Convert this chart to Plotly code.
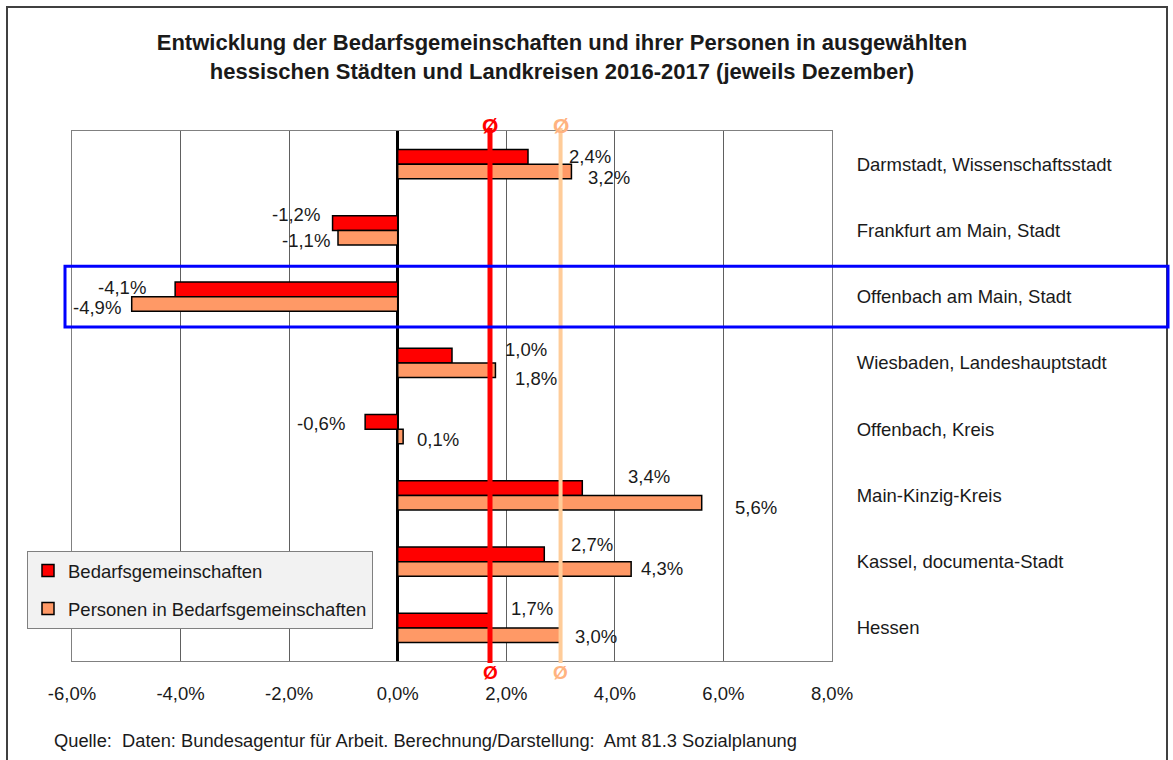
import plotly.graph_objects as go

# ---------------- data ----------------
categories = [
    "Darmstadt, Wissenschaftsstadt",
    "Frankfurt am Main, Stadt",
    "Offenbach am Main, Stadt",
    "Wiesbaden, Landeshauptstadt",
    "Offenbach, Kreis",
    "Main-Kinzig-Kreis",
    "Kassel, documenta-Stadt",
    "Hessen",
]
bg_values = [2.4, -1.2, -4.1, 1.0, -0.6, 3.4, 2.7, 1.7]        # Bedarfsgemeinschaften
pers_values = [3.2, -1.1, -4.9, 1.8, 0.1, 5.6, 4.3, 3.0]       # Personen in BG
series_names = ["Bedarfsgemeinschaften", "Personen in Bedarfsgemeinschaften"]
tick_values = [-6, -4, -2, 0, 2, 4, 6, 8]
highlight_category = "Offenbach am Main, Stadt"
reference_category = "Hessen"
title_text = ("<b>Entwicklung der Bedarfsgemeinschaften und ihrer Personen in ausgewählten<br>"
              "hessischen Städten und Landkreisen 2016-2017 (jeweils Dezember)</b>")
source_text = "Quelle:  Daten: Bundesagentur für Arbeit. Berechnung/Darstellung:  Amt 81.3 Sozialplanung"

# ---------------- label placement (pixel offsets) ----------------
bg_dx = [39, 11, 27, 51, 18, 44, 25, 19]
pers_dx = [15, 6, 9, 18, 12, 31, 8, 12]
bg_dy = [-8, -16, -9, -13, -6, -19, -17, -19]
pers_dy = [13, 10, 11, 16, 10, 12, 7, 9]

# ---------------- style ----------------
FONT = "Liberation Sans, Arial, sans-serif"
FS = 18.5
RED = "#FF0000"
ORANGE = "#FF9966"
PEACH = "#FFCC99"
TXT = "#1a1a1a"
W, H = 1173, 760
ML, MR, MT, MB = 72, 341, 131, 99
PW, PH = W - ML - MR, H - MT - MB


def px_x(px):
    return (px - ML) / PW


def px_y(py):
    return (H - MB - py) / PH


def fmt(v):
    return f"{v:.1f}".replace(".", ",") + "%"


fig = go.Figure()
fig.add_trace(go.Bar(
    y=categories, x=bg_values, orientation="h", name=series_names[0],
    marker=dict(color=RED, line=dict(color="black", width=1.5)),
    legendgroup="a",
))
fig.add_trace(go.Bar(
    y=categories, x=pers_values, orientation="h", name=series_names[1],
    marker=dict(color=ORANGE, line=dict(color="black", width=1.5)),
    legendgroup="b",
))

annotations = []
for vals, dxs, dys in ((bg_values, bg_dx, bg_dy), (pers_values, pers_dx, pers_dy)):
    for cat, v, dx, dy in zip(categories, vals, dxs, dys):
        annotations.append(dict(
            x=v, y=cat, xref="x", yref="y", text=fmt(v), showarrow=False,
            xanchor="left" if v >= 0 else "right",
            xshift=dx if v >= 0 else -dx, yshift=-dy,
            font=dict(family=FONT, size=FS, color=TXT),
        ))

ref_idx = categories.index(reference_category)
ref_bg = bg_values[ref_idx]
ref_p = pers_values[ref_idx]

# Ø markers
for xv, col in ((ref_bg, RED), (ref_p, "#FFB380")):
    for yy, fsz in ((px_y(125), 21), (px_y(672), 19)):
        annotations.append(dict(
            x=xv, y=yy, xref="x", yref="paper", text="<b>Ø</b>", showarrow=False,
            font=dict(family=FONT, size=fsz, color=col),
            xanchor="center", yanchor="middle",
        ))

annotations.append(dict(
    x=px_x(52), y=px_y(740), xref="paper", yref="paper", text=source_text,
    showarrow=False, xanchor="left", yanchor="middle",
    font=dict(family=FONT, size=18.3, color=TXT),
))

hi_idx = categories.index(highlight_category)
shapes = [
    # outer frame
    dict(type="rect", xref="paper", yref="paper",
         x0=px_x(7), x1=px_x(1167), y0=px_y(775), y1=px_y(7),
         line=dict(color="#404040", width=2), layer="below"),
    # reference lines (Hessen averages)
    dict(type="line", xref="x", yref="paper", x0=ref_bg, x1=ref_bg,
         y0=px_y(663), y1=px_y(128), line=dict(color=RED, width=5), layer="above"),
    dict(type="line", xref="x", yref="paper", x0=ref_p, x1=ref_p,
         y0=px_y(663), y1=px_y(128), line=dict(color=PEACH, width=4), layer="above"),
    # highlight box
    dict(type="rect", xref="paper", yref="y",
         x0=px_x(65), x1=px_x(1168), y0=hi_idx - 0.46, y1=hi_idx + 0.46,
         line=dict(color="#0000FF", width=3), layer="above"),
]

fig.update_layout(
    width=W, height=H, autosize=False,
    margin=dict(l=ML, r=MR, t=MT, b=MB, pad=0),
    paper_bgcolor="white", plot_bgcolor="white",
    barmode="group", bargap=0.56, bargroupgap=0,
    font=dict(family=FONT, size=FS, color=TXT),
    title=dict(text=title_text, xref="container", yref="container",
               x=562 / W, xanchor="center", y=1 - 50 / H, yanchor="middle",
               font=dict(family=FONT, size=22, color=TXT)),
    showlegend=True,
    legend=dict(
        x=px_x(27), y=px_y(551), xanchor="left", yanchor="top",
        bgcolor="#F2F2F2", bordercolor="#808080", borderwidth=1,
        font=dict(family=FONT, size=FS, color=TXT),
        traceorder="grouped", tracegroupgap=11,
    ),
    annotations=annotations,
    shapes=shapes,
)
fig.update_xaxes(
    range=[tick_values[0], tick_values[-1]],
    tickvals=tick_values, ticktext=[fmt(t) for t in tick_values],
    showgrid=True, gridcolor="#606060", gridwidth=1,
    zeroline=True, zerolinecolor="black", zerolinewidth=3,
    showline=True, linecolor="#808080", linewidth=1, mirror=True,
    ticks="", ticklabelstandoff=16,
    tickfont=dict(family=FONT, size=FS, color=TXT),
)
fig.update_yaxes(
    categoryorder="array", categoryarray=categories,
    autorange="reversed", side="right",
    showgrid=False, zeroline=False,
    showline=True, linecolor="#808080", linewidth=1, mirror=True,
    ticks="", ticklabelstandoff=20,
    tickfont=dict(family=FONT, size=FS, color=TXT),
)

fig.write_html(
    "out.html",
    config={"displayModeBar": False},
    post_script="document.body.style.margin='0';document.body.style.overflow='hidden';",
)
